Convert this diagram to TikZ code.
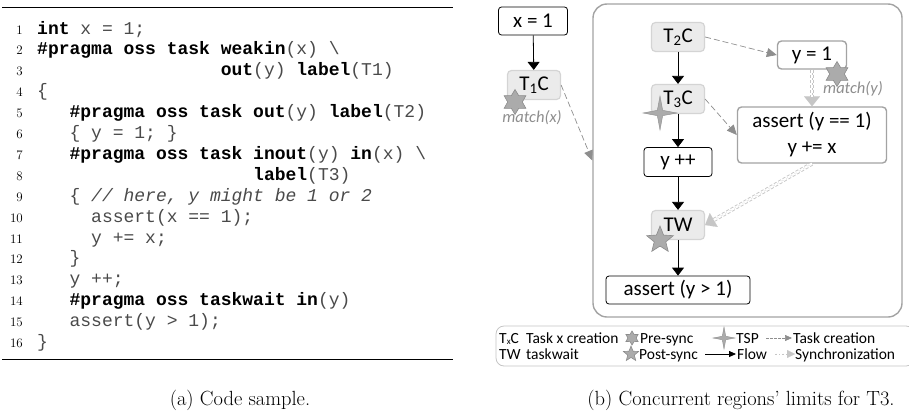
\documentclass[tikz,border=0pt]{standalone}
\usepackage{fontspec}
\setmonofont{Liberation Mono}
\newfontfamily\diafont{Carlito}
\usetikzlibrary{arrows.meta,shapes.geometric}

\definecolor{crfill}{HTML}{EBEBEB}
\definecolor{crdraw}{HTML}{D4D4D4}
\definecolor{regdraw}{HTML}{A3A3A3}
\definecolor{dashc}{HTML}{8E8E8E}
\definecolor{syncc}{HTML}{C6C6C6}
\definecolor{starc}{HTML}{ABABAB}
\definecolor{stard}{HTML}{8C8C8C}
\definecolor{codegray}{HTML}{4A4A4A}
\definecolor{legdraw}{HTML}{C4C4C4}

% keywords of the listing
\newcommand{\kw}[1]{\textcolor{black}{\textbf{#1}}}

\tikzset{
  codeline/.style={anchor=base west, inner sep=0pt, text=codegray,
    font=\fontsize{18}{21}\ttfamily\frenchspacing},
  lineno/.style={anchor=base east, inner sep=0pt, font=\fontsize{13}{15}\rmfamily},
  boxtext/.style={inner sep=0pt, font=\diafont\fontsize{21}{26}\selectfont},
  plainbox/.style={boxtext, draw=black, line width=0.8pt, rounded corners=3pt, fill=white},
  creabox/.style={boxtext, draw=crdraw, fill=crfill, line width=1.2pt, rounded corners=4pt,
    minimum width=53pt, minimum height=29pt},
  regbox/.style={boxtext, draw=regdraw, line width=1.4pt, rounded corners=4pt, fill=white},
  flow/.style={-{Triangle[width=12pt,length=8pt]}, line width=0.8pt, black},
  crea/.style={-{Triangle[width=9pt,length=10pt]}, draw=dashc, line width=0.7pt,
    dash pattern=on 6pt off 3pt},
  syncline/.style={draw=syncc, double=white, double distance=2.2pt, line width=0.9pt,
    dash pattern=on 3pt off 2pt},
  synctip/.style={-{Triangle[width=16pt,length=10pt]}, draw=syncc, line width=0.1pt},
  presync/.style={star, star points=6, star point ratio=1.7, minimum size=25pt,
    inner sep=0pt, fill=starc, draw=stard, line width=0.6pt},
  postsync/.style={star, star points=5, star point ratio=2.3, minimum size=28pt,
    inner sep=0pt, fill=starc, draw=stard, line width=0.6pt},
  tspmark/.style={star, star points=4, star point ratio=4.5, minimum size=34pt,
    inner sep=0pt, fill=starc, draw=stard, line width=0.4pt},
  matchlbl/.style={inner sep=0pt, text=dashc, font=\diafont\itshape\fontsize{16.5}{18}\selectfont},
  legtxt/.style={anchor=base west, inner sep=0pt, font=\diafont\fontsize{15.5}{18}\selectfont},
  captxt/.style={anchor=base, inner sep=0pt, font=\fontsize{20.5}{24}\selectfont},
}

\begin{document}
\begin{tikzpicture}[x=1pt,y=-1pt]
\useasboundingbox (0,0) rectangle (909,415);

% ---------- (a) code listing ----------
\draw[line width=0.9pt] (2,7) -- (453,7);
\draw[line width=0.9pt] (2,359) -- (453,359);

\foreach \i in {1,...,16}{
  \node[lineno] (n\i) at (23,{34+(\i-1)*20.9}) {\i};
}
\node[codeline] (c1)  at ({37+0*10.8},34.0)  {\kw{int} x = 1;};
\node[codeline] (c2)  at ({37+0*10.8},54.9)  {\kw{\#pragma oss task weakin}(x) \textbackslash};
\node[codeline] (c3)  at ({37+17*10.8},75.8) {\kw{out}(y) \kw{label}(T1)};
\node[codeline] (c4)  at ({37+0*10.8},96.7)  {\{};
\node[codeline] (c5)  at ({37+3*10.8},117.6) {\kw{\#pragma oss task out}(y) \kw{label}(T2)};
\node[codeline] (c6)  at ({37+3*10.8},138.5) {\{ y = 1; \}};
\node[codeline] (c7)  at ({37+3*10.8},159.4) {\kw{\#pragma oss task inout}(y) \kw{in}(x) \textbackslash};
\node[codeline] (c8)  at ({37+20*10.8},180.3) {\kw{label}(T3)};
\node[codeline] (c9)  at ({37+3*10.8},201.2) {\{ \textit{// here, y might be 1 or 2}};
\node[codeline] (c10) at ({37+5*10.8},222.1) {assert(x == 1);};
\node[codeline] (c11) at ({37+5*10.8},243.0) {y += x;};
\node[codeline] (c12) at ({37+3*10.8},263.9) {\}};
\node[codeline] (c13) at ({37+3*10.8},284.8) {y ++;};
\node[codeline] (c14) at ({37+3*10.8},305.7) {\kw{\#pragma oss taskwait in}(y)};
\node[codeline] (c15) at ({37+3*10.8},326.6) {assert(y > 1);};
\node[codeline] (c16) at ({37+0*10.8},347.5) {\}};

\node[captxt] (capa) at (240,405) {(a) Code sample.};

% ---------- (b) concurrent regions ----------
\node[regbox, rounded corners=14pt, minimum width=309pt, minimum height=313pt] (region) at (747.5,160.5) {};

\node[plainbox, minimum width=69pt, minimum height=28pt] (x1) at (533,21) {x = 1};
\node[creabox] (t1c) at (534,85) {T\textsubscript{1}C};

\node[creabox] (t2c) at (678,37)  {T\textsubscript{2}C};
\node[creabox] (t3c) at (678,99)  {T\textsubscript{3}C};
\node[plainbox, minimum width=68pt, minimum height=29pt] (ypp) at (678,162) {y ++};
\node[creabox] (tw)  at (678,225) {TW};
\node[plainbox, minimum width=144pt, minimum height=28pt] (ag1) at (678,290) {assert (y > 1)};

\node[regbox, minimum width=69pt, minimum height=28pt] (y1) at (812,55) {y = 1};
\node[regbox, minimum width=149pt, minimum height=56pt, align=center] (as1) at (812,135)
  {assert (y == 1)\\y += x};

% flow
\draw[flow] (x1) -- (t1c);
\draw[flow] (t2c) -- (t3c);
\draw[flow] (t3c) -- (ypp);
\draw[flow] (ypp) -- (tw);
\draw[flow] (tw) -- (ag1);

% task creation
\draw[crea] (t1c.east) -- (region.west);
\draw[crea] (t2c.east) -- (y1.west);
\draw[crea] (t3c.east) -- (as1.west);

% synchronization
\draw[synctip] (y1.south) -- (as1.north);
\draw[syncline, shorten >=9pt] (y1.south) -- (as1.north);
\draw[synctip] (as1.south) -- (tw.east);
\draw[syncline, shorten >=9pt] (as1.south) -- (tw.east);

% marks
\node[presync] (pre1) at (515,102) {};
\node[presync] (pre2) at (837,74) {};
\node[tspmark] (tsp1) at (660,113) {};
\node[postsync] (post1) at (660,240) {};
\node[matchlbl] (mx) at (532,118) {match(x)};
\node[matchlbl] (my) at (853,89) {match(y)};

% legend
\node[draw=legdraw, line width=0.8pt, rounded corners=8pt, minimum width=418pt, minimum height=40pt] (legend) at (705,346) {};
\node[legtxt] (l1) at (499,343) {T\raisebox{-1.5pt}{\fontsize{9}{10}\selectfont x}C};
\node[legtxt] (l1t) at (526,343) {Task x creation};
\node[legtxt] (l2) at (499,359) {TW};
\node[legtxt] (l2t) at (526,359) {taskwait};
\node[presync, minimum size=14pt] (lpre) at (632,338) {};
\node[legtxt] (lpret) at (640,343) {Pre-sync};
\node[postsync, minimum size=16pt] (lpost) at (631,354) {};
\node[legtxt] (lpostt) at (639,359) {Post-sync};
\node[tspmark, minimum size=22pt] (ltsp) at (724,338) {};
\node[legtxt] (ltspt) at (736,343) {TSP};
\coordinate (lca) at (766,338);
\coordinate (lcb) at (792,338);
\draw[crea, -{Triangle[width=6pt,length=7pt]}, dash pattern=on 2.5pt off 1.5pt] (lca) -- (lcb);
\node[legtxt] (lct) at (793,343) {Task creation};
\coordinate (lfa) at (705,354);
\coordinate (lfb) at (736,354);
\draw[flow, -{Triangle[width=6pt,length=7pt]}] (lfa) -- (lfb);
\node[legtxt] (lft) at (737,359) {Flow};
\coordinate (lsa) at (773,354);
\coordinate (lsb) at (795,354);
\draw[synctip, -{Triangle[width=8pt,length=8pt]}] (lsa) -- (lsb);
\draw[syncline, double distance=1.4pt, line width=0.7pt, dash pattern=on 2pt off 1.5pt, shorten >=8pt] (lsa) -- (lsb);
\node[legtxt] (lst) at (795,359) {Synchronization};

\node[captxt] (capb) at (741,405) {(b) Concurrent regions' limits for T3.};
\end{tikzpicture}
\end{document}
